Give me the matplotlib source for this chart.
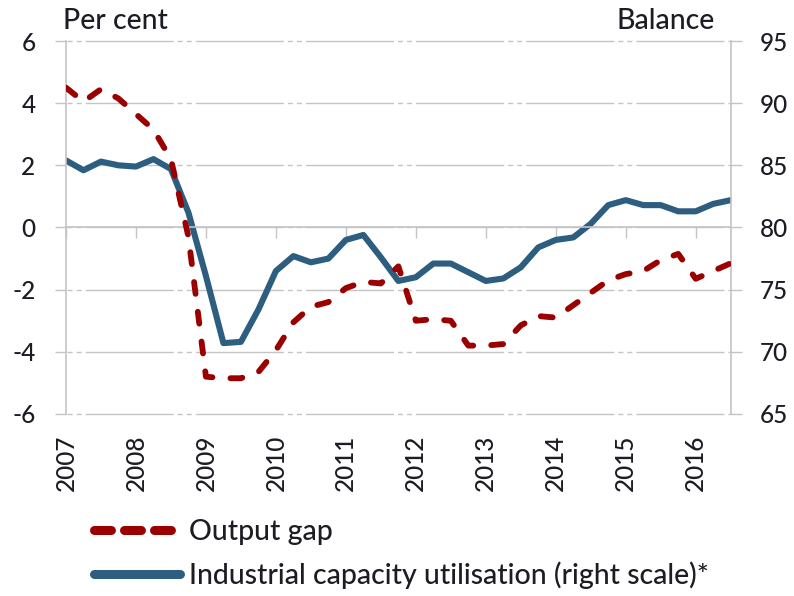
import matplotlib
matplotlib.use("Agg")
import matplotlib.pyplot as plt
from matplotlib.lines import Line2D
import numpy as np

plt.rcParams["font.family"] = ["Lato", "DejaVu Sans"]
plt.rcParams["font.weight"] = "medium"
plt.rcParams["axes.unicode_minus"] = False
plt.rcParams["lines.scale_dashes"] = False

# quarterly data, 2007Q1 .. 2016Q3
output_gap = [4.5, 4.05, 4.45, 4.15, 3.65, 3.15, 2.2, -0.3, -4.8, -4.85,
              -4.85, -4.65, -3.95, -3.05, -2.55, -2.4, -1.95, -1.75, -1.8, -1.25,
              -3.0, -2.95, -3.0, -3.8, -3.8, -3.75, -3.15, -2.85, -2.9, -2.5,
              -2.1, -1.7, -1.5, -1.4, -1.05, -0.85, -1.65, -1.4, -1.15]
capacity = [85.4, 84.6, 85.3, 85.0, 84.9, 85.5, 84.7, 81.2, 76.1, 70.7,
            70.8, 73.4, 76.5, 77.7, 77.2, 77.5, 79.0, 79.4, 77.6, 75.7,
            76.0, 77.1, 77.1, 76.4, 75.7, 75.9, 76.8, 78.4, 79.0, 79.2,
            80.3, 81.8, 82.2, 81.8, 81.8, 81.3, 81.3, 81.9, 82.2]
years = list(range(2007, 2017))
left_ticks = [-6, -4, -2, 0, 2, 4, 6]
right_ticks = [65, 70, 75, 80, 85, 90, 95]
labels = ["Output gap", "Industrial capacity utilisation (right scale)*"]

x = 2007 + np.arange(len(capacity)) / 4

RED = "#9a0000"
BLUE = "#2d5e80"
GRID = "#c4c4c4"
TXT = "#1c1c24"
FS = 17.5      # tick labels
FS_TXT = 20.5  # axis titles and legend

fig = plt.figure(figsize=(7.94, 5.96), dpi=100)
ax_r = fig.add_axes([0.0831, 0.3054, 0.8372, 0.6258])   # host: balance scale
ax_l = ax_r.twinx()                                      # output gap, drawn on top
ax_r.yaxis.tick_right()
ax_l.yaxis.tick_left()

ax_r.plot(x, capacity, color=BLUE, lw=4.4, solid_joinstyle="round", solid_capstyle="round")
ax_l.plot(x, output_gap, color=RED, lw=4.2, linestyle=(0, (8.6, 13.0)),
          dash_capstyle="round", dash_joinstyle="round")

ax_r.set_xlim(2007, 2016.5)
ax_r.set_xticks(years)
ax_r.set_ylim(65, 95)
ax_r.set_yticks(right_ticks)
ax_l.set_ylim(-6, 6)
ax_l.set_yticks(left_ticks)

# dashed horizontal grid (long dash, two short dashes)
ax_r.yaxis.grid(True, color=GRID, lw=1.0,
                linestyle=(65.5, (63.4, 2.9, 3.6, 2.9, 3.6, 2.9)))
ax_r.set_axisbelow(True)
for gl in ax_r.get_ygridlines():
    gl.set_clip_on(False)

ax_r.spines["top"].set_visible(False)
ax_r.spines["bottom"].set_position(("data", 80))
for s in ["bottom", "left", "right"]:
    ax_r.spines[s].set_color(GRID)
    ax_r.spines[s].set_linewidth(1.2)
for s in ax_l.spines.values():
    s.set_visible(False)

# tick marks on the zero line, year labels at the bottom
ax_r.tick_params(axis="x", direction="out", length=8, width=1.0, color=GRID, labelbottom=False)
ax_l.xaxis.set_visible(True)
ax_l.tick_params(axis="x", length=0, labelbottom=True, labelrotation=90, pad=15,
                 labelsize=FS, labelcolor=TXT)

ax_l.tick_params(axis="y", direction="out", length=8, width=1.0, color=GRID, pad=14,
                 labelsize=FS, labelcolor=TXT)
ax_r.tick_params(axis="y", direction="out", length=8, width=1.0, color=GRID, pad=13,
                 labelsize=FS, labelcolor=TXT)

fig.text(63 / 794, 1 - 21 / 596, "Per cent", ha="left", va="center", fontsize=FS_TXT, color=TXT)
fig.text(715 / 794, 1 - 21 / 596, "Balance", ha="right", va="center", fontsize=FS_TXT, color=TXT)

handles = [
    Line2D([], [], color=RED, lw=6.5, linestyle=(0, (12.2, 9.4)), dash_capstyle="round"),
    Line2D([], [], color=BLUE, lw=6.5, solid_capstyle="round"),
]
fig.legend(handles, labels, loc="center left", bbox_to_anchor=(93.5 / 794, 1 - 554 / 596),
           frameon=False, fontsize=FS_TXT, labelcolor=TXT, handlelength=3.05, handletextpad=0.3,
           labelspacing=0.6, borderpad=0, borderaxespad=0)

fig.savefig("out.png", dpi=100)
